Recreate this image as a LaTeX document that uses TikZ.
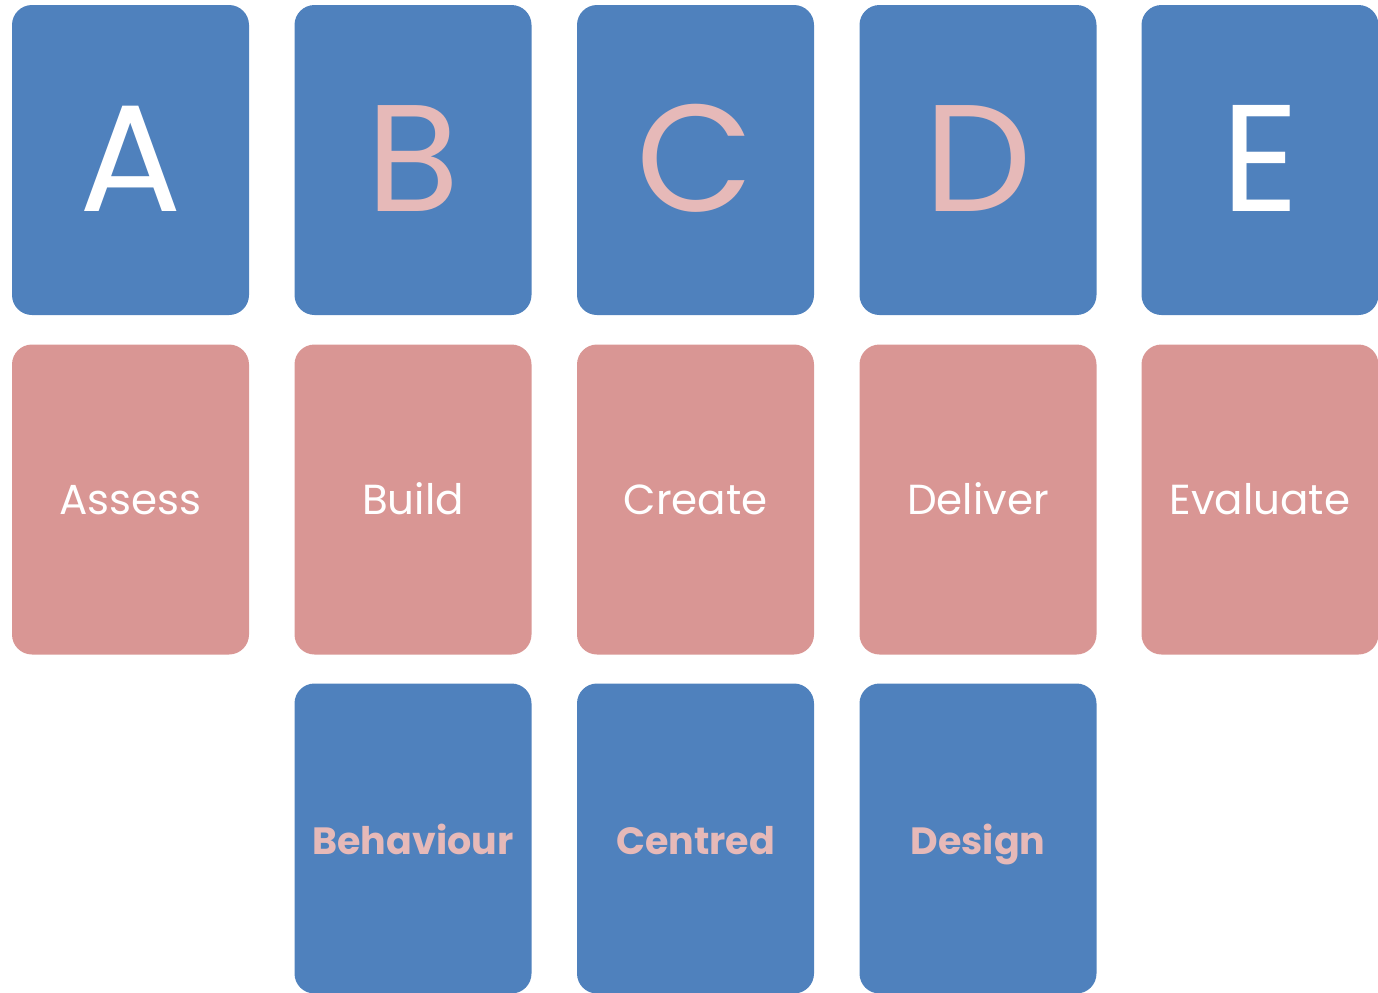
\documentclass[tikz,border=0pt]{standalone}
\usepackage{fontspec}
\setmainfont{Poppins}
\definecolor{cblue}{HTML}{4F81BD}
\definecolor{cpink}{HTML}{D99694}
\definecolor{clight}{HTML}{E6B9B8}
\begin{document}
\begin{tikzpicture}[x=0.5pt,y=-0.5pt,
  card/.style={rectangle, rounded corners=10pt, minimum width=118.5pt, minimum height=155pt, inner sep=0pt, draw=none, text depth=0pt},
  bluecard/.style={card, fill=cblue},
  pinkcard/.style={card, fill=cpink},
  letter/.style={font=\fontsize{76}{76}\selectfont, text height=51pt},
  word/.style={font=\fontsize{21}{21}\selectfont, text=white, text height=15pt},
  boldword/.style={font=\fontsize{19}{19}\selectfont\bfseries, text=clight, text height=16pt}]
\useasboundingbox (0,0) rectangle (1378,992);
\node[bluecard, letter, text=white]  (A) at (130.5,160) {A};
\node[bluecard, letter, text=clight] (B) at (413,160) {B};
\node[bluecard, letter, text=clight] (C) at (695.5,160) {C};
\node[bluecard, letter, text=clight] (D) at (978,160) {D};
\node[bluecard, letter, text=white]  (E) at (1260,160) {E};
\node[pinkcard, word] (a2) at (130.5,499.5) {Assess};
\node[pinkcard, word] (b2) at (413,499.5) {Build};
\node[pinkcard, word] (c2) at (695.5,499.5) {Create};
\node[pinkcard, word] (d2) at (978,499.5) {Deliver};
\node[pinkcard, word] (e2) at (1260,499.5) {Evaluate};
\node[bluecard, boldword] (b3) at (413,838.5) {Behaviour};
\node[bluecard, boldword] (c3) at (695.5,838.5) {Centred};
\node[bluecard, boldword] (d3) at (978,838.5) {Design};
\end{tikzpicture}
\end{document}
